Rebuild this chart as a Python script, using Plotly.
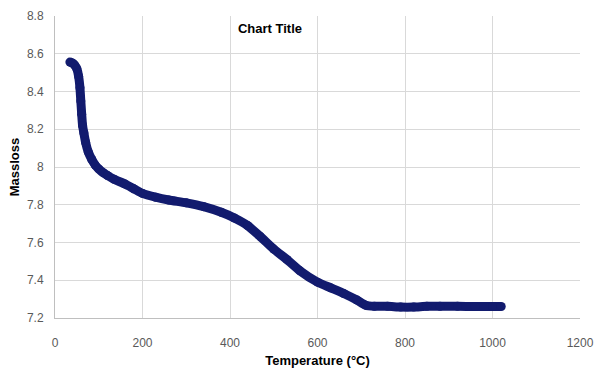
import plotly.graph_objects as go

temperature = [34, 40, 45, 50, 54, 57, 59, 61, 63, 66, 70, 76, 84, 92, 100, 110, 120, 135, 160, 180, 200,
               230, 260, 300, 340, 380, 410, 440, 470, 500, 530, 560, 600, 630, 660, 690, 710, 730,
               760, 790, 820, 850, 880, 920, 960, 1000, 1020]
massloss = [8.556, 8.55, 8.54, 8.52, 8.48, 8.42, 8.35, 8.28, 8.22, 8.18, 8.13, 8.08, 8.04, 8.01, 7.99,
            7.97, 7.955, 7.935, 7.91, 7.885, 7.86, 7.84, 7.825, 7.81, 7.79, 7.76, 7.73, 7.69, 7.63,
            7.565, 7.51, 7.45, 7.39, 7.36, 7.33, 7.295, 7.268, 7.262, 7.262, 7.258, 7.258, 7.262,
            7.262, 7.262, 7.261, 7.261, 7.261]

x_ticks = [0, 200, 400, 600, 800, 1000, 1200]
y_ticks = [7.2, 7.4, 7.6, 7.8, 8.0, 8.2, 8.4, 8.6, 8.8]
y_tick_labels = ["7.2", "7.4", "7.6", "7.8", "8", "8.2", "8.4", "8.6", "8.8"]

navy = "#121b6e"
fig = go.Figure()
fig.add_trace(go.Scatter(
    x=temperature, y=massloss, mode="lines+markers",
    line=dict(color=navy, width=9, shape="spline", smoothing=0.6),
    marker=dict(color=navy, size=9),
    showlegend=False, hoverinfo="skip",
))

tick_font = dict(family="Liberation Sans, Arial, sans-serif", size=12, color="#595959")
title_font = dict(family="Liberation Sans, Arial, sans-serif", size=13, color="#000000")

fig.update_layout(
    width=595, height=370,
    margin=dict(l=55, r=15, t=16, b=52),
    paper_bgcolor="white", plot_bgcolor="white",
    title=dict(text="<b>Chart Title</b>", x=270/595, xanchor="center", xref="container",
               y=1-28/370, yanchor="middle", yref="container", automargin=False,
               font=dict(family="Liberation Sans, Arial, sans-serif", size=13, color="#000000")),
    xaxis=dict(range=[0, 1200], tickvals=x_ticks, ticktext=[str(v) for v in x_ticks],
               showgrid=True, gridcolor="#d9d9d9", gridwidth=1, automargin=False,
               showline=True, linecolor="#bfbfbf", linewidth=1,
               zeroline=False, ticks="", tickfont=tick_font, ticklabelstandoff=14,
               title=dict(text="<b>Temperature (°C)</b>", font=title_font, standoff=6)),
    yaxis=dict(range=[7.2, 8.8], tickvals=y_ticks, ticktext=y_tick_labels,
               showgrid=True, gridcolor="#d9d9d9", gridwidth=1, automargin=False,
               showline=True, linecolor="#bfbfbf", linewidth=1,
               zeroline=False, ticks="", tickfont=tick_font, ticklabelstandoff=8,
               title=dict(text="<b>Massloss</b>", font=title_font, standoff=4)),
)

fig.write_html("out.html", config={"displayModeBar": False},
               post_script="document.body.style.margin='0';")
